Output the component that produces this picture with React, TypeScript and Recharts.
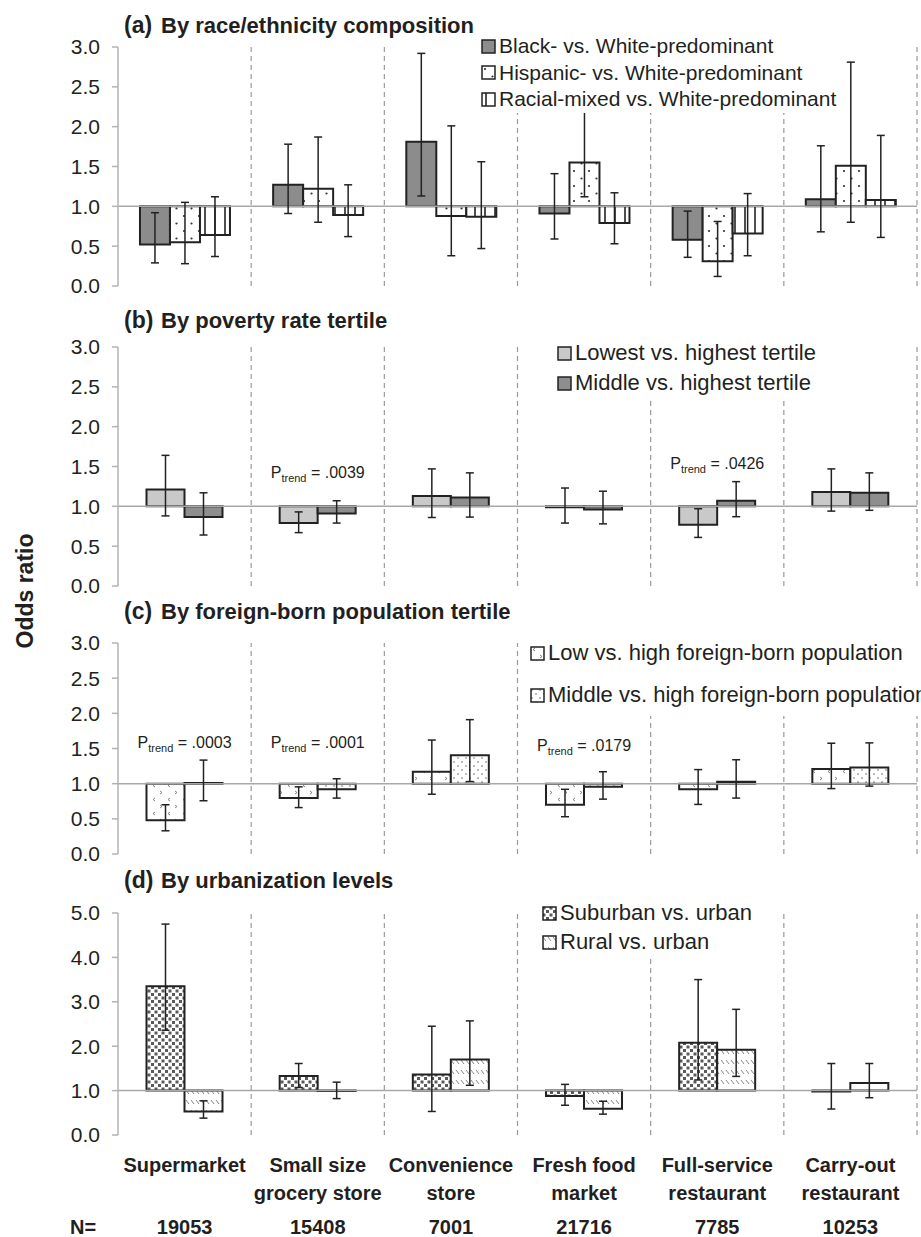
import React from "react";
import { BarChart, Bar, XAxis, YAxis, ErrorBar, ReferenceLine, ReferenceDot, Legend } from "recharts";

const categories = [
  "Supermarket",
  "Small size grocery store",
  "Convenience store",
  "Fresh food market",
  "Full-service restaurant",
  "Carry-out restaurant",
];
const labelLine1 = ["Supermarket", "Small size", "Convenience", "Fresh food", "Full-service", "Carry-out"];
const labelLine2 = ["", "grocery store", "store", "market", "restaurant", "restaurant"];
const sampleN = ["19053", "15408", "7001", "21716", "7785", "10253"];

// (a) race/ethnicity
const blackOR = [0.52, 1.27, 1.81, 0.91, 0.58, 1.09];
const blackLo = [0.29, 0.91, 1.13, 0.59, 0.36, 0.68];
const blackHi = [0.92, 1.78, 2.92, 1.41, 0.94, 1.76];
const hispOR = [0.55, 1.22, 0.88, 1.55, 0.31, 1.51];
const hispLo = [0.28, 0.8, 0.38, 1.12, 0.12, 0.8];
const hispHi = [1.05, 1.87, 2.01, 2.4, 0.81, 2.81];
const mixedOR = [0.64, 0.89, 0.87, 0.79, 0.66, 1.08];
const mixedLo = [0.37, 0.62, 0.47, 0.53, 0.38, 0.61];
const mixedHi = [1.12, 1.27, 1.56, 1.17, 1.16, 1.89];

// (b) poverty tertile
const lowestOR = [1.21, 0.79, 1.13, 0.99, 0.77, 1.18];
const lowestLo = [0.88, 0.67, 0.86, 0.79, 0.61, 0.94];
const lowestHi = [1.64, 0.93, 1.47, 1.23, 0.97, 1.47];
const middleOR = [0.865, 0.91, 1.11, 0.96, 1.07, 1.17];
const middleLo = [0.64, 0.79, 0.865, 0.78, 0.87, 0.95];
const middleHi = [1.17, 1.07, 1.42, 1.19, 1.31, 1.42];

// (c) foreign-born tertile
const lowFbOR = [0.48, 0.795, 1.17, 0.7, 0.92, 1.21];
const lowFbLo = [0.33, 0.66, 0.85, 0.53, 0.705, 0.93];
const lowFbHi = [0.7, 0.955, 1.62, 0.92, 1.2, 1.575];
const midFbOR = [1.01, 0.92, 1.405, 0.956, 1.027, 1.23];
const midFbLo = [0.757, 0.795, 1.03, 0.78, 0.795, 0.965];
const midFbHi = [1.335, 1.07, 1.91, 1.17, 1.34, 1.58];

// (d) urbanization
const suburbOR = [3.35, 1.33, 1.36, 0.88, 2.08, 0.98];
const suburbLo = [2.36, 1.07, 0.53, 0.67, 1.24, 0.585];
const suburbHi = [4.75, 1.61, 2.45, 1.14, 3.5, 1.61];
const ruralOR = [0.53, 0.99, 1.7, 0.59, 1.92, 1.17];
const ruralLo = [0.38, 0.82, 1.12, 0.47, 1.32, 0.84];
const ruralHi = [0.77, 1.19, 2.57, 0.76, 2.83, 1.61];

const ticks3 = [0, 0.5, 1, 1.5, 2, 2.5, 3];
const ticks5 = [0, 1, 2, 3, 4, 5];

const trendB = [
  { cat: categories[1], y: 1.42, p: ".0039" },
  { cat: categories[4], y: 1.54, p: ".0426" },
];
const trendC = [
  { cat: categories[0], y: 1.58, p: ".0003" },
  { cat: categories[1], y: 1.58, p: ".0001" },
  { cat: categories[3], y: 1.55, p: ".0179" },
];

type Series = { key: string; name: string; or: number[]; lo: number[]; hi: number[]; fill: string };

const seriesA: Series[] = [
  { key: "black", name: "Black- vs. White-predominant", or: blackOR, lo: blackLo, hi: blackHi, fill: "#8c8c8c" },
  { key: "hisp", name: "Hispanic- vs. White-predominant", or: hispOR, lo: hispLo, hi: hispHi, fill: "url(#pDots)" },
  { key: "mixed", name: "Racial-mixed vs. White-predominant", or: mixedOR, lo: mixedLo, hi: mixedHi, fill: "url(#pVert)" },
];
const seriesB: Series[] = [
  { key: "lowest", name: "Lowest vs. highest tertile", or: lowestOR, lo: lowestLo, hi: lowestHi, fill: "#c9c9c9" },
  { key: "middle", name: "Middle vs. highest tertile", or: middleOR, lo: middleLo, hi: middleHi, fill: "#8e8e8e" },
];
const seriesC: Series[] = [
  { key: "lowfb", name: "Low vs. high foreign-born population", or: lowFbOR, lo: lowFbLo, hi: lowFbHi, fill: "url(#pChev)" },
  { key: "midfb", name: "Middle vs. high foreign-born population", or: midFbOR, lo: midFbLo, hi: midFbHi, fill: "url(#pFine)" },
];
const seriesD: Series[] = [
  { key: "suburb", name: "Suburban vs. urban", or: suburbOR, lo: suburbLo, hi: suburbHi, fill: "url(#pCheck)" },
  { key: "rural", name: "Rural vs. urban", or: ruralOR, lo: ruralLo, hi: ruralHi, fill: "url(#pHatch)" },
];

// bars grow from OR = 1, error bars are offsets from the OR
function buildRows(series: Series[]) {
  return categories.map((cat, i) => {
    const row: any = { cat };
    series.forEach((s) => {
      row[s.key] = [1, s.or[i]];
      row[s.key + "Err"] = [s.or[i] - s.lo[i], s.hi[i] - s.or[i]];
    });
    return row;
  });
}

const INK = "#231f20";

const CatTick = (props: any) => {
  const { x, y, payload } = props;
  const i = categories.indexOf(payload.value);
  return (
    <g fontWeight="bold" fontSize={20} fill={INK} textAnchor="middle">
      <text x={x} y={y + 37} fill={INK}>{labelLine1[i]}</text>
      <text x={x} y={y + 65} fill={INK}>{labelLine2[i]}</text>
      <text x={x} y={y + 99} fill={INK}>{sampleN[i]}</text>
    </g>
  );
};

const trendShape = (p: string) => (props: any) => (
  <text x={props.cx} y={props.cy} textAnchor="middle" fontSize={16} fill={INK}>
    <tspan dy="0.35em">P</tspan>
    <tspan fontSize={11} dy={4}>trend</tspan>
    <tspan dy={-4}>{" = " + p}</tspan>
  </text>
);

type LegendCfg = { left: number; top: number; rowH: number; fontSize: number; padL: number; padR: number };

const makeLegend = (cfg: LegendCfg, series: Series[]) => (props: any) => {
  const items = [...(props.payload || [])].sort(
    (a: any, b: any) => series.findIndex((s) => s.name === a.value) - series.findIndex((s) => s.name === b.value)
  );
  return (
    <div style={{ background: "#fff", paddingLeft: cfg.padL, paddingRight: cfg.padR }}>
      {items.map((e: any) => (
        <div
          key={e.value}
          style={{ display: "flex", alignItems: "center", height: cfg.rowH, fontSize: cfg.fontSize, color: INK, whiteSpace: "nowrap" }}
        >
          <svg width={15} height={15} style={{ marginRight: 3, flex: "none" }}>
            <rect x={1} y={1} width={13} height={13} fill={e.color} stroke="#222" strokeWidth={1.5} />
          </svg>
          {e.value}
        </div>
      ))}
    </div>
  );
};

type PanelProps = {
  plotTop: number;
  plotH: number;
  domain: [number, number];
  ticks: number[];
  series: Series[];
  gap: string;
  legend: LegendCfg;
  notes?: { cat: string; y: number; p: string }[];
  withAxis?: boolean;
};

function Panel({ plotTop, plotH, domain, ticks, series, gap, legend, notes = [], withAxis = false }: PanelProps) {
  const rows = buildRows(series);
  const axisH = withAxis ? 102 : 0;
  const mb = withAxis ? 0 : 15;
  const height = 15 + plotH + mb + axisH;
  const chartTop = plotTop - 15;
  return (
    <div style={{ position: "absolute", left: 0, top: chartTop, width: 921, height }}>
      <BarChart
        width={921}
        height={height}
        data={rows}
        margin={{ top: 15, right: 4, bottom: mb, left: 0 }}
        barCategoryGap={gap}
        barGap={0}
      >
        <XAxis
          xAxisId="cat"
          dataKey="cat"
          hide={!withAxis}
          height={axisH}
          axisLine={false}
          tickLine={false}
          tickSize={0}
          tickMargin={0}
          interval={0}
          tick={<CatTick />}
        />
        <YAxis
          width={118}
          domain={domain}
          ticks={ticks}
          allowDataOverflow
          interval={0}
          tickFormatter={(v: number) => v.toFixed(1)}
          tick={{ fontSize: 21, fill: INK }}
          axisLine={{ stroke: "#b3b3b3", strokeWidth: 1.5 }}
          tickLine={{ stroke: "#b3b3b3", strokeWidth: 1.5 }}
          tickSize={6}
          tickMargin={12}
        />
        {/* dashed separators at the right edge of each category band */}
        {categories.map((c) => (
          <ReferenceLine
            key={c}
            xAxisId="cat"
            x={c}
            position="end"
            stroke="#9a9a9a"
            strokeWidth={1.2}
            strokeDasharray="5 4"
          />
        ))}
        <ReferenceLine xAxisId="cat" y={1} stroke="#a8a8a8" strokeWidth={1.5} />
        {series.map((s) => (
          <Bar
            key={s.key}
            xAxisId="cat"
            dataKey={s.key}
            name={s.name}
            fill={s.fill}
            stroke="#222"
            strokeWidth={2}
            isAnimationActive={false}
          >
            <ErrorBar dataKey={s.key + "Err"} direction="y" width={4} stroke="#222" strokeWidth={1.5} />
          </Bar>
        ))}
        {notes.map((n) => (
          <ReferenceDot key={n.p} xAxisId="cat" x={n.cat} y={n.y} r={0} shape={trendShape(n.p)} />
        ))}
        <Legend
          layout="vertical"
          align="center"
          verticalAlign="middle"
          wrapperStyle={{ left: legend.left, top: legend.top - chartTop, width: "auto" }}
          content={makeLegend(legend, series)}
        />
      </BarChart>
    </div>
  );
}

const Title = ({ y, tag, text }: { y: number; tag: string; text: string }) => (
  <g fontWeight="bold" fill={INK}>
    <text x={124} y={y} fontSize={23}>{tag}</text>
    <text x={161} y={y} fontSize={22}>{text}</text>
  </g>
);

export default function App() {
  return (
    <div
      style={{
        position: "absolute",
        left: 0,
        top: 0,
        width: 921,
        height: 1237,
        overflow: "hidden",
        background: "#fff",
        fontFamily: "'Liberation Sans', Arial, Helvetica, sans-serif",
      }}
    >
      <svg width={0} height={0} style={{ position: "absolute" }}>
        <defs>
          <pattern id="pDots" width={15} height={15} patternUnits="userSpaceOnUse">
            <rect width={15} height={15} fill="#fff" />
            <circle cx={4} cy={4} r={1.1} fill="#333" />
            <circle cx={11.5} cy={11.5} r={1.1} fill="#333" />
          </pattern>
          <pattern id="pVert" width={10} height={10} patternUnits="userSpaceOnUse">
            <rect width={10} height={10} fill="#fff" />
            <line x1={5} y1={0} x2={5} y2={10} stroke="#222" strokeWidth={1.6} />
          </pattern>
          <pattern id="pChev" width={15} height={14} patternUnits="userSpaceOnUse">
            <rect width={15} height={14} fill="#fff" />
            <path d="M5 2 L3 3.5 L5 5" fill="none" stroke="#777" strokeWidth={0.9} />
            <path d="M10 9 L12 10.5 L10 12" fill="none" stroke="#777" strokeWidth={0.9} />
          </pattern>
          <pattern id="pFine" width={8} height={8} patternUnits="userSpaceOnUse">
            <rect width={8} height={8} fill="#fff" />
            <circle cx={2} cy={2} r={0.8} fill="#666" />
            <circle cx={6} cy={6} r={0.8} fill="#666" />
          </pattern>
          <pattern id="pCheck" width={7} height={7} patternUnits="userSpaceOnUse">
            <rect width={7} height={7} fill="#fff" />
            <rect x={0.5} y={0.5} width={3} height={3} fill="#5a5a5a" />
            <rect x={4} y={4} width={3} height={3} fill="#5a5a5a" />
          </pattern>
          <pattern id="pHatch" width={5} height={10} patternUnits="userSpaceOnUse">
            <rect width={5} height={10} fill="#fff" />
            <line x1={1} y1={2} x2={4} y2={6} stroke="#777" strokeWidth={0.9} />
          </pattern>
        </defs>
      </svg>

      <svg width={921} height={1237} style={{ position: "absolute", left: 0, top: 0 }}>
        <Title y={33} tag="(a)" text="By race/ethnicity composition" />
        <Title y={328} tag="(b)" text="By poverty rate tertile" />
        <Title y={619} tag="(c)" text="By foreign-born population tertile" />
        <Title y={888} tag="(d)" text="By urbanization levels" />
        <text
          x={25}
          y={591}
          transform="rotate(-90 25 591)"
          textAnchor="middle"
          dy="0.35em"
          fontSize={23}
          fontWeight="bold"
          fill={INK}
        >
          Odds ratio
        </text>
        <text x={83} y={1234} textAnchor="middle" fontSize={20} fontWeight="bold" fill={INK}>
          N=
        </text>
      </svg>

      <Panel
        plotTop={47}
        plotH={239}
        domain={[0, 3]}
        ticks={ticks3}
        series={seriesA}
        gap="16.5%"
        legend={{ left: 476, top: 33, rowH: 26.5, fontSize: 21, padL: 5, padR: 8 }}
      />
      <Panel
        plotTop={347}
        plotH={239}
        domain={[0, 3]}
        ticks={ticks3}
        series={seriesB}
        gap="21.4%"
        notes={trendB}
        legend={{ left: 545, top: 338, rowH: 30, fontSize: 22, padL: 12, padR: 27 }}
      />
      <Panel
        plotTop={643}
        plotH={211}
        domain={[0, 3]}
        ticks={ticks3}
        series={seriesC}
        gap="21.4%"
        notes={trendC}
        legend={{ left: 522, top: 632, rowH: 42, fontSize: 22, padL: 8, padR: 20 }}
      />
      <Panel
        plotTop={913}
        plotH={222}
        domain={[0, 5]}
        ticks={ticks5}
        series={seriesD}
        gap="21.4%"
        withAxis
        legend={{ left: 530, top: 898.5, rowH: 29, fontSize: 22, padL: 12, padR: 20 }}
      />
    </div>
  );
}
